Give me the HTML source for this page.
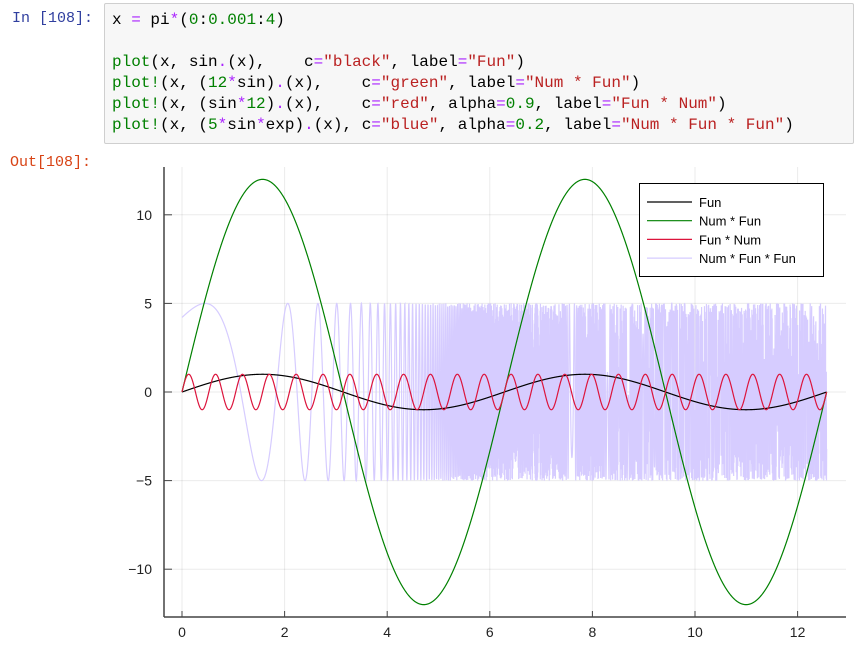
<!DOCTYPE html>
<html><head><meta charset="utf-8"><style>
body{margin:0;width:856px;height:653px;background:#fff;overflow:hidden;position:relative;font-family:"Liberation Sans",sans-serif}
.prompt{position:absolute;font-family:"Liberation Mono",monospace;font-size:15px}
#cell{position:absolute;left:104px;top:3px;width:750px;height:141px;background:#f7f7f7;border:1px solid #cfcfcf;border-radius:2px;box-sizing:border-box}
pre{margin:0;position:absolute;left:7px;top:6px;font-family:"Liberation Mono",monospace;font-size:16px;line-height:21px;color:#000}
.f{color:#008000}.o{color:#aa22ff}.n{color:#008000}.s{color:#ba2121}
</style></head><body>
<div class="prompt" style="left:12px;top:10px;color:#303f9f">In [108]:</div>
<div id="cell"><pre>x <span class="o">=</span> pi<span class="o">*</span>(<span class="n">0</span>:<span class="n">0.001</span>:<span class="n">4</span>)

<span class="f">plot</span>(x, sin<span class="o">.</span>(x),    c<span class="o">=</span><span class="s">"black"</span>, label<span class="o">=</span><span class="s">"Fun"</span>)
<span class="f">plot!</span>(x, (<span class="n">12</span><span class="o">*</span>sin)<span class="o">.</span>(x),    c<span class="o">=</span><span class="s">"green"</span>, label<span class="o">=</span><span class="s">"Num * Fun"</span>)
<span class="f">plot!</span>(x, (sin<span class="o">*</span><span class="n">12</span>)<span class="o">.</span>(x),    c<span class="o">=</span><span class="s">"red"</span>, alpha<span class="o">=</span><span class="n">0.9</span>, label<span class="o">=</span><span class="s">"Fun * Num"</span>)
<span class="f">plot!</span>(x, (<span class="n">5</span><span class="o">*</span>sin<span class="o">*</span>exp)<span class="o">.</span>(x), c<span class="o">=</span><span class="s">"blue"</span>, alpha<span class="o">=</span><span class="n">0.2</span>, label<span class="o">=</span><span class="s">"Num * Fun * Fun"</span>)</pre></div>
<div class="prompt" style="left:10px;top:154px;color:#d84315">Out[108]:</div>
<svg id="chart" width="856" height="653" style="position:absolute;left:0;top:0" font-family="Liberation Sans, sans-serif"></svg>
<script>
const xTicks=[0,2,4,6,8,10,12];
const yTicks=[-10,-5,0,5,10];
const yTickLabels=["\u221210","\u22125","0","5","10"];
const seriesLabels=["Fun","Num * Fun","Fun * Num","Num * Fun * Fun"];
const seriesColors=["#000000","#008000","#dc143c","#d6ccff"];
const amplitudes=[1,12,1,5];
const frequencies=[1,1,12,1];
const useExp=[false,false,false,true];
const xStart=0, xEnd=4*Math.PI, xStep=0.001*Math.PI;
const NS="http://www.w3.org/2000/svg";
const svg=document.getElementById('chart');
const X=v=>182+v*51.3, Y=v=>392-v*17.72;
function mk(t,a,p){const e=document.createElementNS(NS,t);for(const k in a)e.setAttribute(k,a[k]);(p||svg).appendChild(e);return e;}
const L=164,R=846,T=167,B=617;
xTicks.forEach(t=>{
 const g=mk('line',{x1:X(t),x2:X(t),y1:T,y2:B,stroke:'#000','stroke-opacity':0.08});
 
 
 const tk=mk('line',{x1:X(t),x2:X(t),y1:B,y2:B-6,stroke:'#444'});
 
 
 const lb=mk('text',{x:X(t),y:B+20,'text-anchor':'middle','font-size':14,fill:'#222'});lb.textContent=t;
 
 
});
yTicks.forEach((t,i)=>{
 const g=mk('line',{x1:L,x2:R,y1:Y(t),y2:Y(t),stroke:'#000','stroke-opacity':0.08});
 
 
 const tk=mk('line',{x1:L,x2:L+8,y1:Y(t),y2:Y(t),stroke:'#444'});
 
 
 const lb=mk('text',{x:L-12,y:Y(t)+5,'text-anchor':'end','font-size':14,fill:'#222'});lb.textContent=yTickLabels[i];
 
 
});
const order=[3,0,1,2];
order.forEach(s=>{
 let pts=[];
 for(let x=xStart;x<=xEnd+1e-9;x+=xStep){
  const arg=useExp[s]?Math.exp(x):frequencies[s]*x;
  pts.push(X(x).toFixed(2)+','+Y(amplitudes[s]*Math.sin(arg)).toFixed(2));
 }
 const p=mk('polyline',{points:pts.join(' '),fill:'none',stroke:seriesColors[s],'stroke-width':1.2});
 
 
});
const ax1=mk('line',{x1:L,x2:L,y1:T,y2:B,stroke:'#444','stroke-width':1.5});


const ax2=mk('line',{x1:L,x2:R,y1:B,y2:B,stroke:'#444','stroke-width':1.5});


const lg=mk('g',{});


mk('rect',{x:639.5,y:183.5,width:184,height:93,fill:'#fff',stroke:'#000'},lg);
seriesLabels.forEach((lab,i)=>{
 const y=202+i*18.7;
 const e=mk('g',{},lg);
 
 
 mk('line',{x1:647,x2:692,y1:y,y2:y,stroke:seriesColors[i],'stroke-width':1.2},e);
 const t=mk('text',{x:699,y:y+5,'font-size':13,fill:'#000'},e);t.textContent=lab;
});
</script>
</body></html>
